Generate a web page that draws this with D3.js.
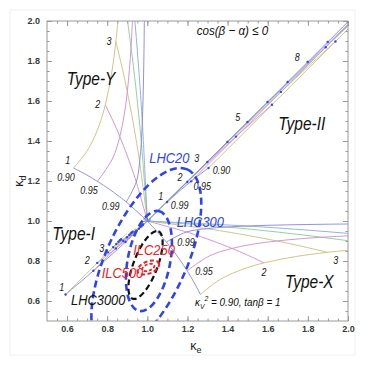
<!DOCTYPE html>
<html>
<head>
<meta charset="utf-8">
<script src="https://cdn.jsdelivr.net/npm/d3@7/dist/d3.min.js"></script>
<style>
  body { margin: 0; background: #fff; }
  text { font-family: "Liberation Sans", Arial, Helvetica, sans-serif; }
</style>
</head>
<body>
<svg id="chart" width="374" height="367"></svg>
<script>
const tickLabels = [0.6, 0.8, 1.0, 1.2, 1.4, 1.6, 1.8, 2.0];
const tanbList = [1, 2, 3, 4, 5];
const kv2List = ["0.99", "0.95", "0.90"];

// Type-Y: fixed tanβ (1..5), κV² running 1 → 0.90, points [κe, κd]
const typeYTanb = [
  [[1,1],[0.895,1.095],[0.8485,1.1314],[0.8117,1.1581],[0.7511,1.1983],[0.6998,1.229],[0.6325,1.2649]],
  [[1,1],[0.945,1.195],[0.9192,1.2728],[0.8983,1.3313],[0.8629,1.4219],[0.8321,1.4935],[0.7906,1.5811]],
  [[1,1],[0.9617,1.295],[0.9428,1.4142],[0.9271,1.5044],[0.9001,1.6455],[0.8762,1.7581],[0.8433,1.8974]],
  [[1,1],[0.97,1.395],[0.9546,1.5556],[0.9416,1.6777],[0.9188,1.8691],[0.8982,2.0227]],
  [[1,1],[0.975,1.495],[0.9617,1.697],[0.9502,1.8509],[0.9398,1.9798],[0.93,2.0927]]
];
// Type-Y: fixed κV² (0.99, 0.95, 0.90), tanβ running from 1 upward
const typeYKv2 = [
  [[0.895,1.095],[0.945,1.195],[0.9617,1.295],[0.97,1.395],[0.975,1.495],[0.9783,1.595],[0.9807,1.695],[0.9825,1.795],[0.9839,1.895],[0.985,1.995],[0.9851,2.01]],
  [[0.7511,1.1983],[0.8256,1.3101],[0.8629,1.4219],[0.8852,1.5337],[0.9001,1.6455],[0.9108,1.7573],[0.9188,1.8691],[0.9259,2.0],[0.9265,2.01]],
  [[0.6325,1.2649],[0.6957,1.344],[0.7379,1.423],[0.768,1.5021],[0.7906,1.5811],[0.8222,1.7393],[0.8433,1.8974],[0.8536,2.0],[0.8545,2.01]]
];
// Type-X is the mirror image of Type-Y (κe ↔ κd), drawn from the same arrays

// Type-I: fixed tanβ (1..5)
const typeITanb = [
  [[1,1],[0.891,0.895],[0.8405,0.8485],[0.7997,0.8117],[0.7311,0.7511],[0.6718,0.6998],[0.5925,0.6325]],
  [[1,1],[0.941,0.945],[0.9112,0.9192],[0.8863,0.8983],[0.8429,0.8629],[0.8041,0.8321],[0.7506,0.7906]],
  [[1,1],[0.9577,0.9617],[0.9348,0.9428],[0.9151,0.9271],[0.8801,0.9001],[0.8482,0.8762],[0.8033,0.8433]],
  [[1,1],[0.966,0.97],[0.9466,0.9546],[0.9296,0.9416],[0.8988,0.9188],[0.8702,0.8982],[0.8296,0.8696]],
  [[1,1],[0.971,0.975],[0.9537,0.9617],[0.9382,0.9502],[0.91,0.93],[0.8835,0.9115],[0.8454,0.8854]]
];
// Type-I: fixed κV²
const typeIKv2 = [
  [[0.891,0.895],[0.941,0.945],[0.9577,0.9617],[0.971,0.975],[0.981,0.985],[0.986,0.99]],
  [[0.7311,0.7511],[0.8056,0.8256],[0.8429,0.8629],[0.8801,0.9001],[0.91,0.93],[0.9323,0.9523],[0.9435,0.9635]],
  [[0.5925,0.6325],[0.6979,0.7379],[0.7506,0.7906],[0.8033,0.8433],[0.8454,0.8854],[0.8771,0.9171],[0.9008,0.9408]]
];
const typeIDots = [
  [0.891,0.895],[0.941,0.945],[0.9577,0.9617],[0.966,0.97],[0.971,0.975],[0.9743,0.9783],[0.9767,0.9807],[0.9785,0.9825],
  [0.7311,0.7511],[0.8429,0.8629],[0.8801,0.9001],[0.8988,0.9188],[0.91,0.93],[0.9174,0.9374],[0.9227,0.9427],[0.9267,0.9467],
  [0.5925,0.6325],[0.7506,0.7906],[0.8033,0.8433],[0.8296,0.8696],[0.8454,0.8854],[0.856,0.896],[0.8635,0.9035],[0.8692,0.9092]
];

// Type-II: fixed tanβ (1..5)
const typeIITanb = [
  [[1,1],[1.099,1.095],[1.1394,1.1314],[1.1701,1.1581],[1.2183,1.1983],[1.257,1.229],[1.3049,1.2649]],
  [[1,1],[1.199,1.195],[1.2808,1.2728],[1.3433,1.3313],[1.4419,1.4219],[1.5215,1.4935],[1.6211,1.5811]],
  [[1,1],[1.299,1.295],[1.4222,1.4142],[1.5164,1.5044],[1.6655,1.6455],[1.7861,1.7581],[1.9374,1.8974]],
  [[1,1],[1.399,1.395],[1.5636,1.5556],[1.6897,1.6777],[1.8891,1.8691],[2.0507,2.0227]],
  [[1,1],[1.499,1.495],[1.705,1.697],[1.8629,1.8509],[1.9958,1.9798],[2.1127,2.0927]]
];
// Type-II: fixed κV²
const typeIIKv2 = [
  [[1.099,1.095],[2.009,2.005]],
  [[1.2183,1.1983],[2.03,2.01]],
  [[1.3049,1.2649],[2.05,2.01]]
];
const typeIIDots = [
  [1.099,1.095],[1.199,1.195],[1.299,1.295],[1.399,1.395],[1.499,1.495],[1.599,1.595],[1.699,1.695],[1.799,1.795],[1.899,1.895],[1.999,1.995],
  [1.2183,1.1983],[1.4419,1.4219],[1.6655,1.6455],[1.8891,1.8691],
  [1.3049,1.2649],[1.6211,1.5811],[1.9374,1.8974]
];

// projected precision contours: centre (κe, κd), semi-axes, tilt (deg)
const ellipses = [
  {name: "LHC20",   ke: 0.995, kd: 0.805,  a: 0.496, b: 0.201, tilt: 65.7},
  {name: "LHC300",  ke: 1.008, kd: 0.80,   a: 0.254, b: 0.106, tilt: 79},
  {name: "LHC3000", ke: 0.991, kd: 0.78,   a: 0.180, b: 0.060, tilt: 69},
  {name: "ILC250",  ke: 1.005, kd: 0.7675, a: 0.057, b: 0.030, tilt: 22},
  {name: "ILC500",  ke: 1.005, kd: 0.7675, a: 0.032, b: 0.016, tilt: 20}
];

// tanβ and κV² labels along the curves
const numberLabels = [
  ["3", 0.809, 1.8825], ["2", 0.7526, 1.5675], ["1", 0.603, 1.286],
  ["0.90", 0.5947, 1.2025], ["0.95", 0.709, 1.1375], ["0.99", 0.8174, 1.0575],
  ["3", 1.246, 1.296], ["0.90", 1.37, 1.234], ["2", 1.1627, 1.201], ["0.95", 1.2738, 1.1575],
  ["1", 1.0665, 1.104], ["0.99", 1.161, 1.0625], ["5", 1.45, 1.501], ["8", 1.747, 1.799],
  ["3", 0.7725, 0.846], ["2", 0.7008, 0.7875], ["1", 0.5732, 0.651],
  ["0.99", 1.1926, 0.874], ["0.95", 1.282, 0.729], ["2", 1.581, 0.724], ["3", 1.9385, 0.7875]
];
const typeLabels = [
  ["Type-Y", 0.598, 1.68], ["Type-II", 1.6525, 1.455], ["Type-I", 0.5264, 0.905], ["Type-X", 1.686, 0.6635]
];
const colliderLabels = [
  ["LHC20", 1.0097, 1.2915, "blue"], ["LHC300", 1.146, 0.97, "blue"], ["LHC3000", 0.6196, 0.58, "black"],
  ["ILC250", 0.930, 0.83, "red"], ["ILC500", 0.7725, 0.7135, "red"]
];

const tanbColor = ["#8484e3", "#d08ad0", "#c9bd7c", "#86cc8e", "#8aa6e4"];
const kv2Color = {"0.99": "#8484e3", "0.95": "#d08ad0", "0.90": "#c9bd7c"};
const inkColor = {blue: "#2f45e8", red: "#ec2027", black: "#111"};

const svg = d3.select("#chart");
const x = d3.scaleLinear().domain([0.5, 2.0]).range([47, 348]);
const y = d3.scaleLinear().domain([0.5, 2.0]).range([321, 21]);
const unit = ((x(1) - x(0)) + (y(0) - y(1))) / 2;

svg.append("rect")
  .attr("x", 10).attr("y", 10).attr("width", 345).attr("height", 345)
  .attr("fill", "none").attr("stroke", "#f0f0f0");

svg.append("defs").append("clipPath").attr("id", "plotClip")
  .append("rect")
  .attr("x", x(0.5)).attr("y", y(2.0))
  .attr("width", x(2.0) - x(0.5)).attr("height", y(0.5) - y(2.0));

const plot = svg.append("g").attr("clip-path", "url(#plotClip)");
const line = d3.line().x(d => x(d[0])).y(d => y(d[1])).curve(d3.curveCatmullRom);
const swap = pts => pts.map(p => [p[1], p[0]]);

function drawSet(curves, colors, flip) {
  plot.append("g").selectAll("path")
    .data(curves)
    .join("path")
    .attr("d", (d) => line(flip ? swap(d) : d))
    .attr("fill", "none")
    .attr("stroke", (d, i) => colors[i])
    .attr("stroke-width", 0.9);
}

const kvColors = kv2List.map(k => kv2Color[k]);
drawSet(typeYTanb, tanbColor, false);
drawSet(typeYKv2, kvColors, false);
drawSet(typeYTanb, tanbColor, true);
drawSet(typeYKv2, kvColors, true);
drawSet(typeITanb, tanbColor, false);
drawSet(typeIKv2, kvColors, false);
drawSet(typeIITanb, tanbColor, false);
drawSet(typeIIKv2, kvColors, false);

plot.append("g").selectAll("circle")
  .data(typeIDots.concat(typeIIDots))
  .join("circle")
  .attr("cx", d => x(d[0]))
  .attr("cy", d => y(d[1]))
  .attr("r", 1.2)
  .attr("fill", "#3346e6");

// ellipses
const dashStyle = {
  LHC20: ["blue", 2.6, "7,4"], LHC300: ["blue", 2.6, "7,4"], LHC3000: ["black", 2.2, "6,3.5"],
  ILC250: ["red", 2, "4,2.5"], ILC500: ["red", 1.8, "3,2"]
};
plot.append("g").selectAll("ellipse")
  .data(ellipses)
  .join("ellipse")
  .attr("cx", d => x(d.ke))
  .attr("cy", d => y(d.kd))
  .attr("rx", d => d.a * unit)
  .attr("ry", d => d.b * unit)
  .attr("transform", d => `rotate(${-d.tilt},${x(d.ke)},${y(d.kd)})`)
  .attr("fill", "none")
  .attr("stroke", d => inkColor[dashStyle[d.name][0]])
  .attr("stroke-width", d => dashStyle[d.name][1])
  .attr("stroke-dasharray", d => dashStyle[d.name][2]);

// frame, ticks
const minorTicks = d3.range(0.55, 2.0, 0.05);
const frame = [
  {axis: d3.axisBottom(x), at: `translate(0,${y(0.5)})`, labels: true, pad: 5},
  {axis: d3.axisLeft(y), at: `translate(${x(0.5)},0)`, labels: true, pad: 7},
  {axis: d3.axisTop(x), at: `translate(0,${y(2.0)})`, labels: false, pad: 3},
  {axis: d3.axisRight(y), at: `translate(${x(2.0)},0)`, labels: false, pad: 3}
];
frame.forEach(f => {
  const gMinor = svg.append("g").attr("transform", f.at)
    .call(f.axis.tickValues(minorTicks).tickSize(-2.5).tickSizeOuter(0).tickFormat(""));
  gMinor.select(".domain").remove();
  gMinor.selectAll("line").attr("stroke", "#999");

  const gMajor = svg.append("g").attr("transform", f.at)
    .call(f.axis.tickValues(tickLabels).tickSize(-5).tickSizeOuter(0).tickPadding(f.pad)
      .tickFormat(f.labels ? d3.format(".1f") : ""));
  gMajor.select(".domain").remove();
  gMajor.selectAll("line").attr("stroke", "#999");
  gMajor.selectAll("text")
    .attr("font-family", "'Liberation Sans', Arial, sans-serif")
    .attr("font-size", 9)
    .attr("font-weight", "bold")
    .attr("fill", "#3a3a3a");
});
svg.append("rect")
  .attr("x", x(0.5)).attr("y", y(2.0))
  .attr("width", x(2.0) - x(0.5)).attr("height", y(0.5) - y(2.0))
  .attr("fill", "none").attr("stroke", "#9a9a9a").attr("stroke-width", 1);

// text helper (squeezed horizontally like the source typeface)
function putText(ke, kd, str, size, fill, anchor) {
  return svg.append("text")
    .attr("transform", `translate(${x(ke)},${y(kd)}) scale(0.86,1)`)
    .attr("text-anchor", anchor)
    .attr("font-size", size)
    .attr("font-style", "italic")
    .attr("fill", fill)
    .text(str);
}

numberLabels.forEach(d => putText(d[1], d[2], d[0], 10.5, "#1a1a1a", "middle"));
typeLabels.forEach(d => putText(d[1], d[2], d[0], 18, "#111", "start"));
colliderLabels.forEach(d => putText(d[1], d[2], d[0], 15, inkColor[d[3]], "start"));

putText(1.246, 1.93, "cos(β − α) ≤ 0", 13.5, "#111", "start");
putText(0.997, 0.996, "SM", 6, "#5560a0", "middle");

const note = svg.append("text")
  .attr("transform", `translate(${x(1.2374)},${y(0.575)}) scale(0.86,1)`)
  .attr("font-size", 11.5).attr("font-style", "italic").attr("fill", "#111");
note.append("tspan").text("κ");
note.append("tspan").attr("font-size", 8).attr("dy", 3).text("V");
note.append("tspan").attr("font-size", 8).attr("dy", -8).text("2");
note.append("tspan").attr("dy", 5).text(" = 0.90,  tanβ = 1");

// axis titles
const xt = svg.append("text")
  .attr("x", 196).attr("y", 350)
  .attr("text-anchor", "middle").attr("font-size", 12.5).attr("fill", "#222");
xt.append("tspan").text("κ");
xt.append("tspan").attr("font-size", 9).attr("dy", 3).text("e");

const yt = svg.append("text")
  .attr("transform", `translate(23,${(y(0.5) + y(2.0)) / 2 + 10}) rotate(-90)`)
  .attr("text-anchor", "middle").attr("font-size", 12.5).attr("fill", "#222");
yt.append("tspan").text("κ");
yt.append("tspan").attr("font-size", 9).attr("dy", 3).text("d");
</script>
</body>
</html>
